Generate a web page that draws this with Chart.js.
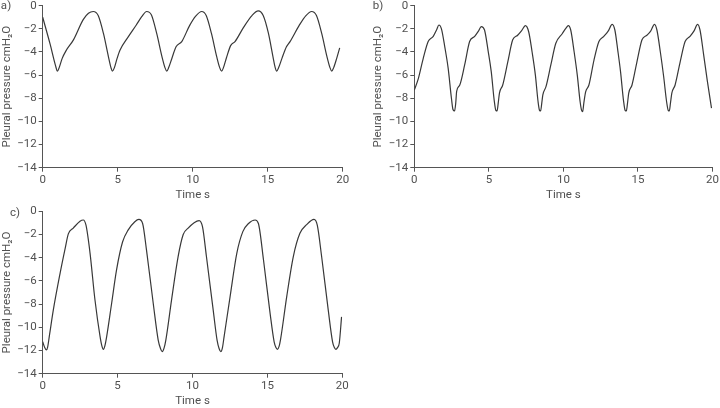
<!DOCTYPE html>
<html>
<head>
<meta charset="utf-8">
<script src="https://cdn.jsdelivr.net/npm/chart.js@4.4.1/dist/chart.umd.min.js"></script>
<style>
  html, body { margin: 0; padding: 0; background: #ffffff; width: 720px; height: 408px; overflow: hidden; }
  .wrap { position: absolute; }
  canvas { display: block; }
</style>
</head>
<body>
<div class="wrap" id="wa"><canvas id="ca" width="355" height="206"></canvas></div>
<div class="wrap" id="wb"><canvas id="cb" width="350" height="206"></canvas></div>
<div class="wrap" id="wc"><canvas id="cc" width="355" height="207"></canvas></div>
<script>
// ---------- data ----------
const xTicks = [0, 5, 10, 15, 20];
const yTicks = [0, -2, -4, -6, -8, -10, -12, -14];
const xTitle = 'Time s';
const yTitle = 'Pleural pressure cmH\u2082O';
const panelLabels = ['a)', 'b)', 'c)'];

const timeA = [0.00,0.50,0.85,0.98,1.10,1.30,1.55,2.05,2.70,3.05,3.37,3.70,4.05,4.38,4.55,4.65,4.78,4.95,5.15,5.70,6.25,6.60,6.93,7.25,7.60,7.95,8.15,8.27,8.40,8.60,8.89,9.27,9.80,10.20,10.60,10.90,11.25,11.60,11.80,11.93,12.05,12.25,12.53,12.82,13.40,13.95,14.37,14.70,15.05,15.35,15.50,15.60,15.73,15.95,16.25,16.49,17.10,17.55,17.93,18.25,18.60,18.95,19.15,19.27,19.40,19.60,19.80];
const pressureA = [-1.00,-3.35,-5.15,-5.65,-5.35,-4.55,-3.90,-2.95,-1.20,-0.65,-0.50,-0.85,-2.40,-4.40,-5.35,-5.65,-5.35,-4.60,-3.85,-2.70,-1.65,-0.95,-0.50,-0.80,-2.40,-4.40,-5.35,-5.65,-5.35,-4.60,-3.55,-3.10,-1.70,-0.90,-0.50,-0.85,-2.40,-4.40,-5.35,-5.65,-5.35,-4.50,-3.45,-3.10,-1.85,-0.85,-0.45,-0.85,-2.40,-4.40,-5.35,-5.65,-5.35,-4.55,-3.55,-3.10,-1.70,-0.85,-0.50,-0.85,-2.40,-4.40,-5.35,-5.65,-5.35,-4.55,-3.65];

const timeB = [0.00,0.27,0.60,0.93,1.27,1.49,1.65,1.82,2.05,2.27,2.49,2.60,2.70,2.78,2.84,3.05,3.38,3.71,4.05,4.30,4.49,4.71,4.95,5.16,5.36,5.47,5.55,5.63,5.71,5.93,6.27,6.60,6.93,7.20,7.45,7.67,7.90,8.12,8.30,8.40,8.47,8.55,8.62,8.83,9.16,9.49,9.93,10.16,10.33,10.49,10.72,10.93,11.12,11.22,11.29,11.37,11.49,11.71,12.05,12.38,12.71,13.00,13.27,13.45,13.65,13.83,14.03,14.14,14.22,14.30,14.38,14.60,14.93,15.27,15.60,15.85,16.11,16.27,16.50,16.72,16.92,17.03,17.10,17.18,17.27,17.49,17.83,18.16,18.49,18.75,19.00,19.16,19.40,19.65,19.93];
const pressureB = [-7.30,-6.30,-4.55,-3.10,-2.65,-2.10,-1.67,-2.00,-3.60,-5.40,-8.00,-9.00,-9.10,-8.40,-7.40,-6.85,-5.10,-3.10,-2.65,-2.20,-1.80,-2.10,-3.90,-5.70,-8.20,-9.05,-9.10,-8.40,-7.55,-6.85,-4.85,-2.95,-2.55,-2.15,-1.73,-2.25,-4.00,-6.00,-8.30,-9.05,-9.10,-8.40,-7.70,-7.00,-5.10,-3.25,-2.40,-1.95,-1.73,-2.10,-4.00,-6.00,-8.30,-9.05,-9.15,-8.40,-7.45,-6.85,-4.70,-3.10,-2.65,-2.20,-1.61,-2.10,-3.90,-5.70,-8.20,-9.05,-9.10,-8.40,-7.55,-6.85,-4.85,-2.95,-2.55,-2.20,-1.61,-2.10,-4.00,-6.10,-8.30,-9.05,-9.10,-8.40,-7.55,-6.85,-4.85,-3.10,-2.65,-2.20,-1.61,-2.10,-4.20,-6.50,-8.85];

const timeC = [0.00,0.12,0.25,0.33,0.45,0.71,1.16,1.50,1.71,2.04,2.49,2.71,2.89,3.16,3.49,3.83,3.95,4.05,4.15,4.27,4.60,4.93,5.33,5.71,6.15,6.42,6.67,6.93,7.38,7.71,7.87,7.98,8.10,8.22,8.60,9.04,9.38,9.71,10.11,10.44,10.67,10.93,11.38,11.64,11.78,11.89,12.00,12.11,12.51,12.96,13.36,13.74,14.18,14.40,14.74,15.18,15.45,15.57,15.67,15.78,15.89,16.29,16.73,17.17,17.62,18.11,18.33,18.62,19.06,19.35,19.47,19.57,19.68,19.80,19.95];
const pressureC = [-11.25,-11.70,-11.95,-11.70,-10.70,-8.50,-5.35,-3.20,-1.95,-1.45,-0.85,-0.75,-1.20,-3.60,-7.65,-10.80,-11.60,-11.90,-11.60,-10.80,-7.95,-5.05,-2.65,-1.60,-0.90,-0.70,-1.05,-3.35,-7.95,-11.10,-11.85,-12.10,-11.80,-11.10,-7.65,-3.90,-2.00,-1.45,-0.98,-0.80,-1.35,-3.90,-8.50,-11.10,-11.85,-12.10,-11.75,-10.80,-7.35,-3.60,-1.75,-1.05,-0.75,-1.05,-4.20,-8.80,-11.25,-11.75,-11.90,-11.65,-10.95,-7.35,-3.90,-1.90,-1.15,-0.70,-1.20,-3.90,-8.50,-11.25,-11.75,-11.90,-11.75,-11.35,-9.10];

// ---------- rendering ----------
const FONT = 'Roboto, "Noto Sans", sans-serif';
const TEXT = '#505050';
const AXIS = '#555555';
const LINE = '#383838';

const panelLabelPlugin = {
  id: 'panelLabel',
  afterDraw(chart, args, opts) {
    const ctx = chart.ctx;
    ctx.save();
    ctx.font = '11.5px ' + FONT;
    ctx.fillStyle = TEXT;
    ctx.textAlign = 'center';
    ctx.textBaseline = 'middle';
    ctx.fillText(opts.text, opts.x, opts.y);
    ctx.restore();
  }
};

function fmt(v) { return v < 0 ? '\u2212' + Math.abs(v) : String(v); }

function makePanel(wrapId, canvasId, box, area, times, values, label, labelPage) {
  const wrap = document.getElementById(wrapId);
  wrap.style.left = box.L + 'px';
  wrap.style.top = box.T + 'px';
  const padTop = area.top - box.T;
  const yW = area.left - box.L;
  const xH = (box.T + box.H) - area.bottom;
  const padRight = (box.L + box.W) - area.right;
  const pts = times.map((t, i) => ({ x: t, y: values[i] }));
  new Chart(document.getElementById(canvasId), {
    type: 'line',
    data: { datasets: [{
      data: pts, borderColor: LINE, borderWidth: 1.2, pointRadius: 0,
      cubicInterpolationMode: 'monotone', fill: false
    }]},
    options: {
      responsive: false, animation: false,
      layout: { padding: { top: padTop, right: padRight, left: 0, bottom: 0 } },
      plugins: {
        legend: { display: false }, tooltip: { enabled: false },
        panelLabel: { text: label, x: labelPage.x - box.L, y: labelPage.y - box.T }
      },
      scales: {
        x: {
          type: 'linear', min: 0, max: 20,
          afterBuildTicks(s) { s.ticks = xTicks.map(v => ({ value: v })); },
          afterFit(s) { s.height = xH; },
          grid: { drawOnChartArea: false, drawTicks: true, tickLength: 4, color: AXIS },
          border: { display: true, color: AXIS, width: 1 },
          ticks: { color: TEXT, font: { family: FONT, size: 11.5 }, padding: 2, maxRotation: 0, callback: fmt },
          title: { display: true, text: xTitle, color: TEXT, font: { family: FONT, size: 11.5 }, padding: { top: 0, bottom: 0 } }
        },
        y: {
          type: 'linear', min: -14, max: 0,
          afterBuildTicks(s) { s.ticks = yTicks.slice().reverse().map(v => ({ value: v })); },
          afterFit(s) { s.width = yW; },
          grid: { drawOnChartArea: false, drawTicks: true, tickLength: 4, color: AXIS },
          border: { display: true, color: AXIS, width: 1 },
          ticks: { color: TEXT, font: { family: FONT, size: 11.5 }, padding: 2, callback: fmt },
          title: { display: true, text: yTitle, color: TEXT, font: { family: FONT, size: 11.5 }, padding: { top: 0, bottom: 0 } }
        }
      }
    },
    plugins: [panelLabelPlugin]
  });
}

makePanel('wa', 'ca', { L: 0, T: -4, W: 355, H: 206 },
  { left: 42.7, top: 5.7, right: 342.7, bottom: 167.7 }, timeA, pressureA, panelLabels[0], { x: 6, y: 6 });
makePanel('wb', 'cb', { L: 371, T: -4, W: 350, H: 206 },
  { left: 414.3, top: 5.7, right: 714, bottom: 167.7 }, timeB, pressureB, panelLabels[1], { x: 378, y: 6 });
makePanel('wc', 'cc', { L: 0, T: 201, W: 355, H: 207 },
  { left: 42.7, top: 211.3, right: 342.3, bottom: 373.7 }, timeC, pressureC, panelLabels[2], { x: 15, y: 213 });
</script>
</body>
</html>
